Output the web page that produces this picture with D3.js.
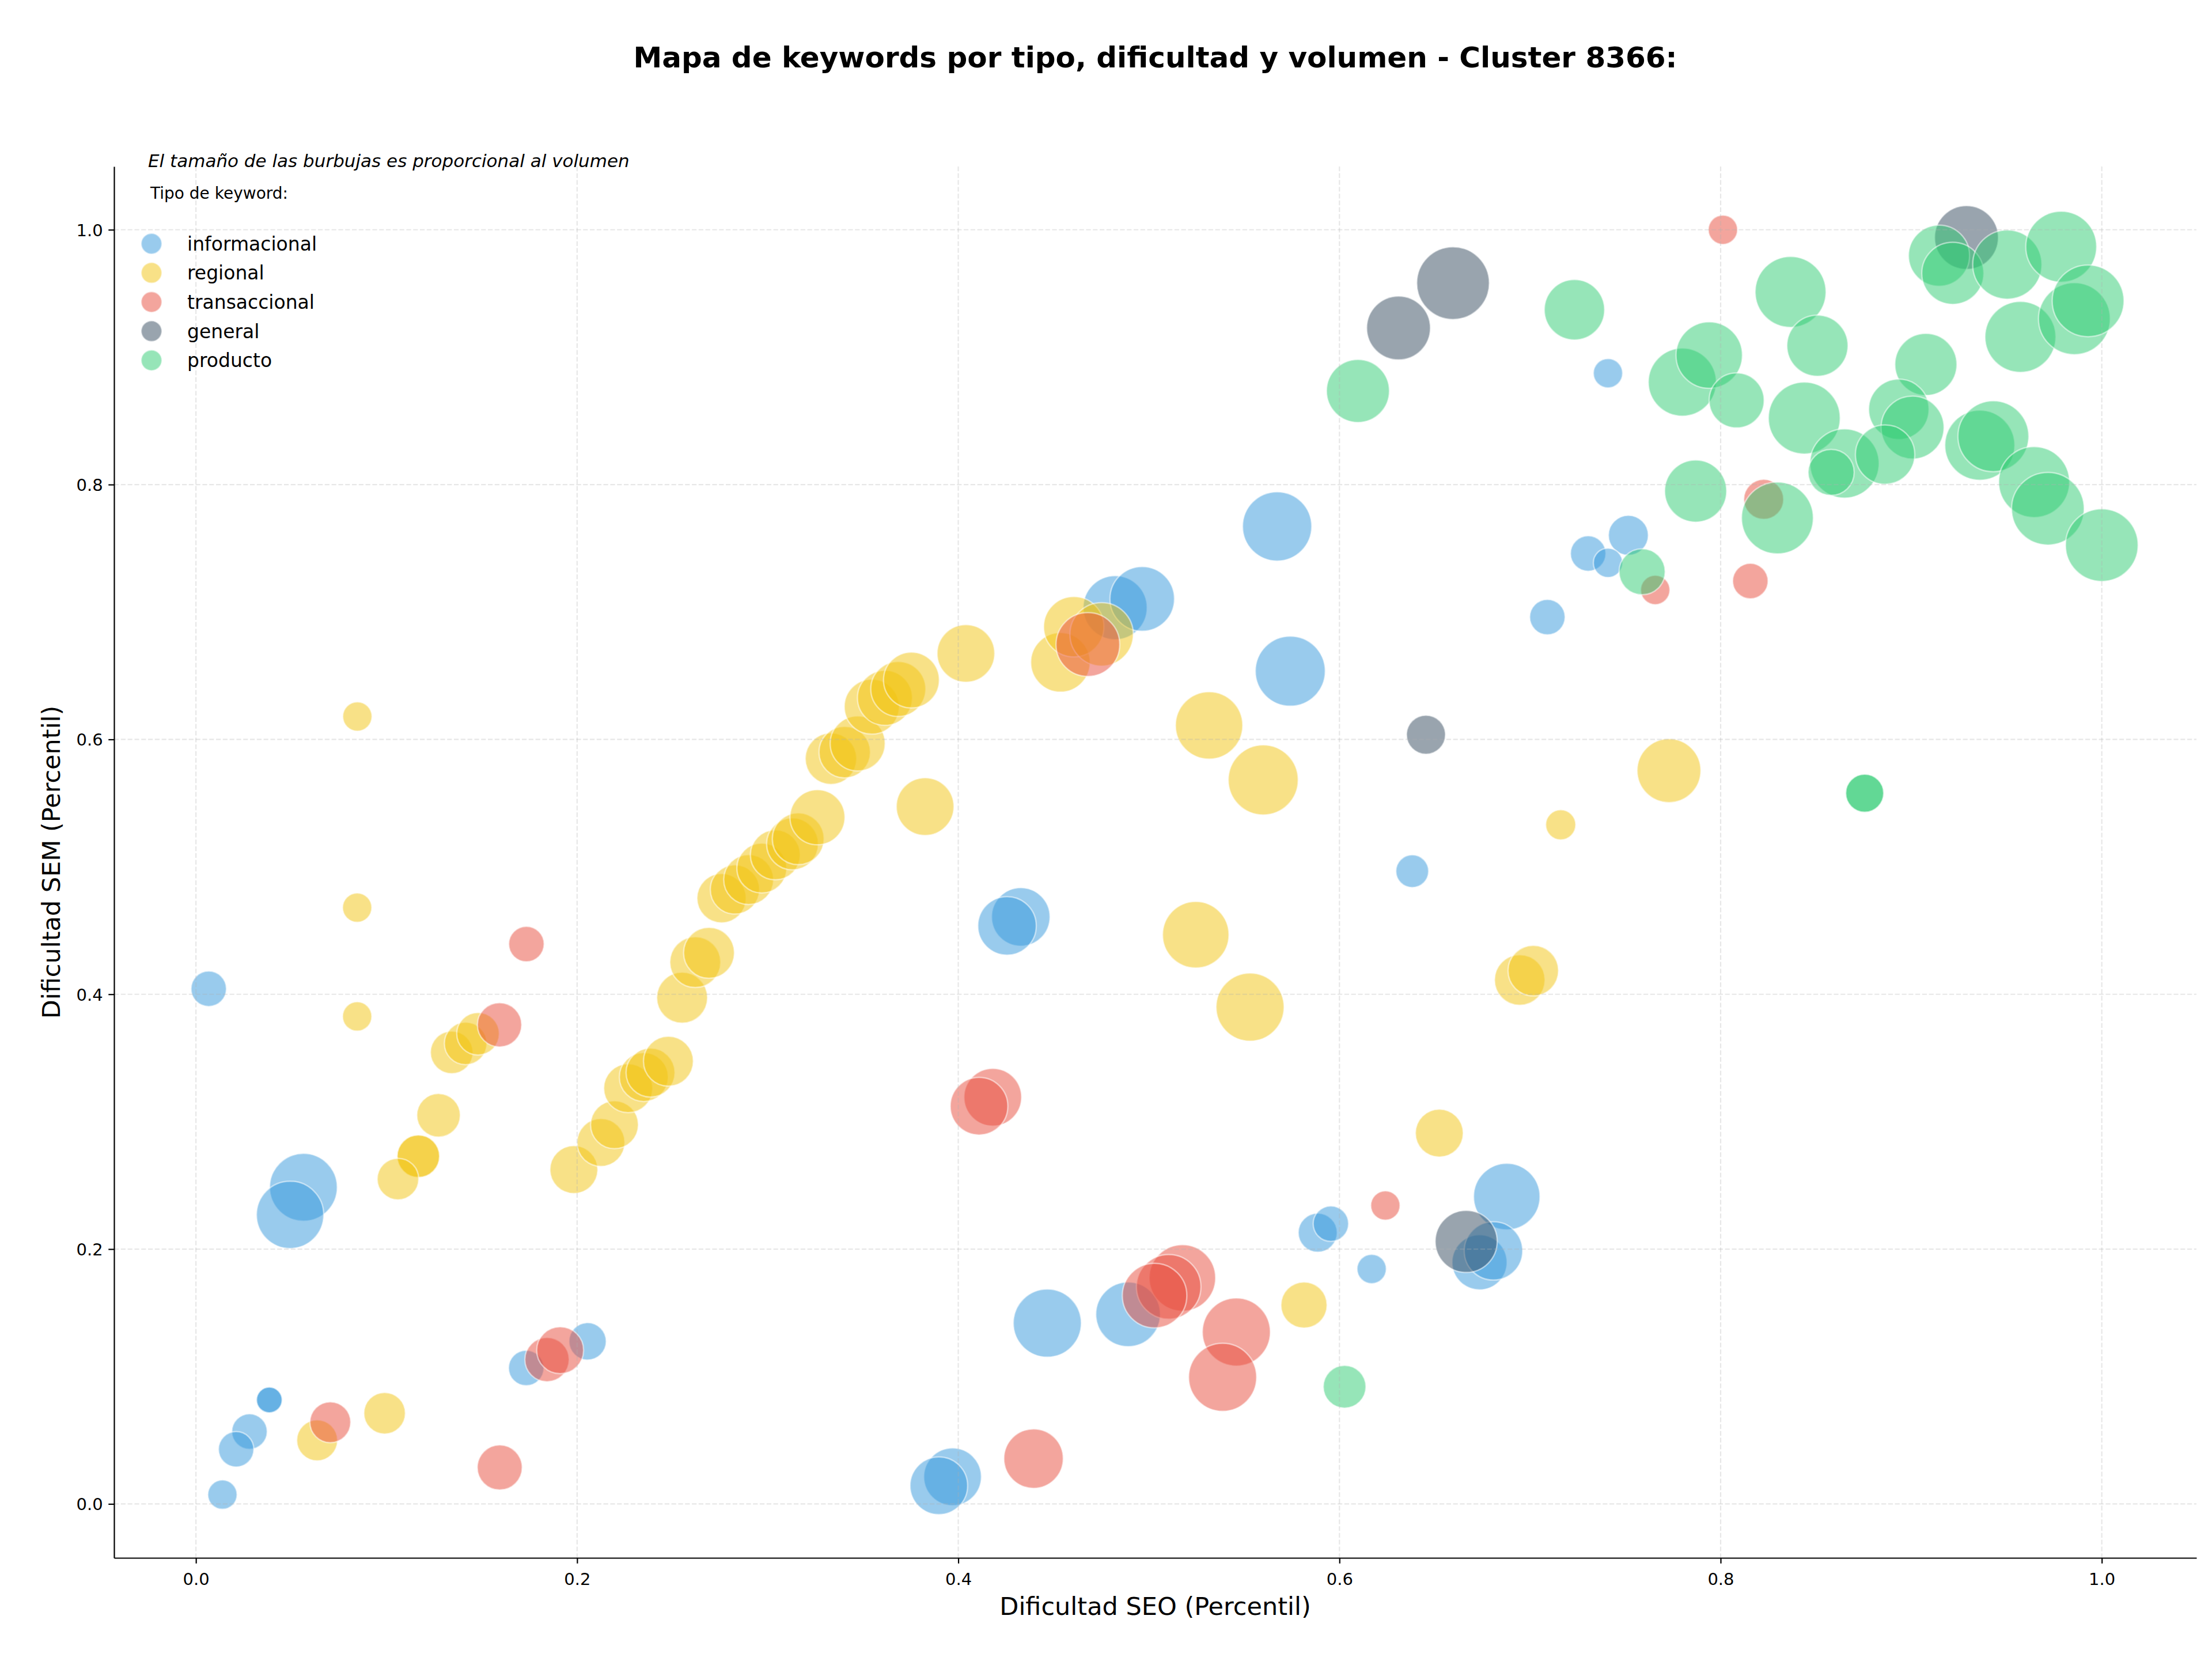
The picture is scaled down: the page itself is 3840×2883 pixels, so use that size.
<!DOCTYPE html>
<html>
<head>
<meta charset="utf-8">
<script src="https://cdn.jsdelivr.net/npm/d3@7"></script>
<style>
  html, body { margin: 0; padding: 0; background: #fff; }
  svg { display: block; }
  text { font-family: "DejaVu Sans", sans-serif; fill: #000; }
</style>
</head>
<body>
<svg id="chart" width="3840" height="2883"></svg>
<script>
// ---------------- DATA ----------------
const titleText = "Mapa de keywords por tipo, dificultad y volumen - Cluster 8366:";
const subtitleText = "El tamaño de las burbujas es proporcional al volumen";
const legendTitle = "Tipo de keyword:";
const xLabel = "Dificultad SEO (Percentil)";
const yLabel = "Dificultad SEM (Percentil)";
const categories = ["informacional", "regional", "transaccional", "general", "producto"];
const categoryColors = ["#3498db", "#f1c40f", "#e74c3c", "#34495e", "#2ecc71"];
const tickValues = [0.0, 0.2, 0.4, 0.6, 0.8, 1.0];

// [dificultad SEO, dificultad SEM, volumen]
const informacional = [
  [0.0067, 0.4043, 2620], [0.0564, 0.2485, 9570], [0.0494, 0.2269, 9470],
  [0.0385, 0.0816, 1380], [0.0385, 0.0816, 1380], [0.0281, 0.0568, 2620],
  [0.0211, 0.0429, 2620], [0.0139, 0.0073, 1790], [0.1733, 0.1067, 2620],
  [0.2055, 0.1276, 2900], [0.4328, 0.4607, 7140], [0.4256, 0.4537, 7140],
  [0.4823, 0.7034, 8560], [0.4965, 0.7103, 8710], [0.5673, 0.7672, 10000],
  [0.5742, 0.6536, 10230], [0.6382, 0.4966, 2240], [0.5886, 0.2129, 3170],
  [0.5955, 0.2199, 2620], [0.6169, 0.1844, 1790], [0.6878, 0.2412, 9220],
  [0.6735, 0.1896, 6320], [0.6808, 0.1986, 7140], [0.4891, 0.1488, 8710],
  [0.4467, 0.1419, 9670], [0.3970, 0.0213, 6940], [0.3898, 0.0143, 6940],
  [0.7409, 0.8874, 1790], [0.7516, 0.7602, 3330], [0.7305, 0.7459, 2620],
  [0.7409, 0.7386, 1790], [0.7091, 0.6960, 2620]
];
const regional = [
  [0.0847, 0.6180, 1790], [0.0846, 0.4680, 1790], [0.0846, 0.3826, 1790],
  [0.1342, 0.3544, 3780], [0.1415, 0.3614, 3780], [0.1480, 0.3690, 3780],
  [0.1273, 0.3050, 3950], [0.1167, 0.2729, 3780], [0.1167, 0.2729, 3780],
  [0.1060, 0.2550, 3600], [0.1983, 0.2624, 4780], [0.2125, 0.2837, 4780],
  [0.2196, 0.2976, 4780], [0.2268, 0.3262, 5000], [0.2350, 0.3350, 5000],
  [0.2385, 0.3385, 5000], [0.2479, 0.3474, 5200], [0.2551, 0.3973, 5400],
  [0.2620, 0.4252, 5400], [0.2692, 0.4325, 5400], [0.2758, 0.4754, 5060],
  [0.2828, 0.4822, 5060], [0.2900, 0.4900, 5200], [0.2969, 0.4990, 5200],
  [0.3040, 0.5094, 5200], [0.3130, 0.5180, 5600], [0.3160, 0.5220, 5600],
  [0.3261, 0.5389, 6320], [0.3332, 0.5849, 5530], [0.3404, 0.5900, 5530],
  [0.3472, 0.5968, 6320], [0.3546, 0.6257, 6320], [0.3615, 0.6326, 6320],
  [0.3685, 0.6396, 6320], [0.3754, 0.6466, 6510], [0.4040, 0.6675, 6940],
  [0.3826, 0.5473, 6940], [0.4536, 0.6605, 7370], [0.4606, 0.6884, 7600],
  [0.4752, 0.6825, 8400], [0.5246, 0.4467, 9220], [0.5531, 0.3899, 9670],
  [0.5316, 0.6110, 9470], [0.5600, 0.5682, 10230], [0.6524, 0.2910, 4780],
  [0.5814, 0.1561, 4440], [0.6946, 0.4112, 5330], [0.7017, 0.4185, 5330],
  [0.7729, 0.5755, 8500], [0.7161, 0.5330, 1890], [0.0636, 0.0499, 3480],
  [0.0990, 0.0712, 3600]
];
const transaccional = [
  [0.1734, 0.4394, 2620], [0.1593, 0.3760, 4100], [0.0705, 0.0641, 3480],
  [0.1594, 0.0286, 4225], [0.1842, 0.1133, 4100], [0.1911, 0.1206, 4600],
  [0.4680, 0.6745, 8500], [0.4181, 0.3192, 6940], [0.4109, 0.3122, 6940],
  [0.6241, 0.2342, 1790], [0.5176, 0.1774, 9220], [0.5104, 0.1704, 8710],
  [0.5030, 0.1635, 8710], [0.5459, 0.1349, 9670], [0.5387, 0.0994, 9670],
  [0.4395, 0.0356, 7370], [0.8012, 1.0000, 1790], [0.8226, 0.7884, 3330],
  [0.8156, 0.7243, 2620], [0.7657, 0.7173, 1790]
];
const general = [
  [0.6454, 0.6037, 3170], [0.6310, 0.9229, 8500], [0.6596, 0.9581, 11025],
  [0.6665, 0.2060, 8040], [0.9290, 0.9939, 8500]
];
const producto = [
  [0.6097, 0.8735, 8280], [0.6027, 0.0920, 3800], [0.7233, 0.9372, 7600],
  [0.8367, 0.9512, 10500], [0.8508, 0.9090, 7800], [0.7799, 0.8804, 9670],
  [0.7940, 0.9016, 9220], [0.8084, 0.8661, 6320], [0.8439, 0.8522, 10780],
  [0.9077, 0.8943, 8040], [0.8935, 0.8591, 7600], [0.9007, 0.8448, 8280],
  [0.8650, 0.8166, 10000], [0.8580, 0.8096, 4440], [0.8863, 0.8236, 7370],
  [0.9360, 0.8309, 10230], [0.9431, 0.8379, 10500], [0.9645, 0.8020, 10500],
  [0.9717, 0.7811, 11025], [1.0000, 0.7525, 11025], [0.7869, 0.7949, 8040],
  [0.8298, 0.7738, 10780], [0.7588, 0.7316, 4440], [0.8756, 0.5578, 3025],
  [0.8756, 0.5578, 3025], [0.9146, 0.9797, 7800], [0.9218, 0.9658, 8040],
  [0.9504, 0.9727, 10000], [0.9787, 0.9867, 10500], [0.9573, 0.9159, 10500],
  [0.9856, 0.9302, 10780], [0.9928, 0.9442, 10780]
];
const seriesList = [informacional, regional, transaccional, general, producto];

// ---------------- LAYOUT ----------------
const W = 3840, H = 2883;
const L = 198, R = 3813, T = 289, B = 2704;

const svg = d3.select("#chart");

const allPts = seriesList.flat();
function padded(vals) {
  const [a, b] = d3.extent(vals);
  const m = (b - a) * 0.05;
  return [a - m, b + m];
}
const x = d3.scaleLinear().domain(padded(allPts.map(d => d[0]))).range([L, R]);
const y = d3.scaleLinear().domain(padded(allPts.map(d => d[1]))).range([B, T]);
const r = d3.scaleSqrt().domain([0, 10000]).range([0, 60]);
const color = d3.scaleOrdinal().domain(categories).range(categoryColors);

// clip
svg.append("defs").append("clipPath").attr("id", "plotclip")
  .append("rect").attr("x", L).attr("y", T).attr("width", R - L).attr("height", B - T);

// bubbles
const plot = svg.append("g").attr("clip-path", "url(#plotclip)");
categories.forEach((cat, i) => {
  plot.append("g").selectAll("circle")
    .data(seriesList[i])
    .join("circle")
    .attr("cx", d => x(d[0]))
    .attr("cy", d => y(d[1]))
    .attr("r", d => r(d[2]))
    .attr("fill", color(cat))
    .attr("fill-opacity", 0.5)
    .attr("stroke", "#ffffff")
    .attr("stroke-opacity", 0.5)
    .attr("stroke-width", 2.5);
});

// grid (drawn above collections as in matplotlib default)
const grid = svg.append("g");
grid.selectAll("line.gx").data(tickValues).join("line")
  .attr("x1", d => x(d)).attr("x2", d => x(d))
  .attr("y1", T).attr("y2", B)
  .attr("stroke", "#b0b0b0").attr("stroke-opacity", 0.3)
  .attr("stroke-width", 2.2).attr("stroke-dasharray", "8.2,3.6");
grid.selectAll("line.gy").data(tickValues).join("line")
  .attr("y1", d => y(d)).attr("y2", d => y(d))
  .attr("x1", L).attr("x2", R)
  .attr("stroke", "#b0b0b0").attr("stroke-opacity", 0.3)
  .attr("stroke-width", 2.2).attr("stroke-dasharray", "8.2,3.6");

// axes
const fmt = d3.format(".1f");
const xAxis = svg.append("g").attr("transform", `translate(0,${B})`)
  .call(d3.axisBottom(x).tickValues(tickValues).tickFormat(fmt).tickSize(9.7).tickSizeOuter(0).tickPadding(9.7));
const yAxis = svg.append("g").attr("transform", `translate(${L},0)`)
  .call(d3.axisLeft(y).tickValues(tickValues).tickFormat(fmt).tickSize(9.7).tickSizeOuter(0).tickPadding(9.7));
[xAxis, yAxis].forEach(a => {
  a.attr("font-family", null).attr("font-size", null);
  a.select(".domain").attr("stroke", "#000").attr("stroke-width", 2.2);
  a.selectAll(".tick line").attr("stroke", "#000").attr("stroke-width", 2.2);
  a.selectAll(".tick text").style("font-family", "'DejaVu Sans', sans-serif").style("font-size", "29px").attr("fill", "#000");
});
xAxis.selectAll(".tick text").attr("dy", null).attr("y", 47);
yAxis.selectAll(".tick text").attr("dy", "0.36em");

// axis labels
svg.append("text").attr("x", (L + R) / 2).attr("y", 2803)
  .attr("text-anchor", "middle").style("font-size", "43px").text(xLabel);
svg.append("text").attr("transform", `translate(104,${(T + B) / 2}) rotate(-90)`)
  .attr("text-anchor", "middle").style("font-size", "43px").text(yLabel);

// title
svg.append("text").attr("x", (L + R) / 2).attr("y", 117)
  .attr("text-anchor", "middle").style("font-size", "50px").style("font-weight", "bold")
  .text(titleText);

// subtitle
svg.append("text").attr("x", 257).attr("y", 290)
  .style("font-size", "31px").style("font-style", "italic").text(subtitleText);

// legend
svg.append("text").attr("x", 261).attr("y", 345).style("font-size", "28px").text(legendTitle);
const leg = svg.append("g");
const rows = leg.selectAll("g").data(categories).join("g")
  .attr("transform", (d, i) => `translate(263,${423 + i * 50.6})`);
rows.append("circle").attr("r", 18)
  .attr("fill", d => color(d)).attr("fill-opacity", 0.5)
  .attr("stroke", "#fff").attr("stroke-opacity", 0.5).attr("stroke-width", 2.5);
rows.append("text").attr("x", 62).attr("dy", "0.36em").style("font-size", "33px").text(d => d);
</script>
</body>
</html>
